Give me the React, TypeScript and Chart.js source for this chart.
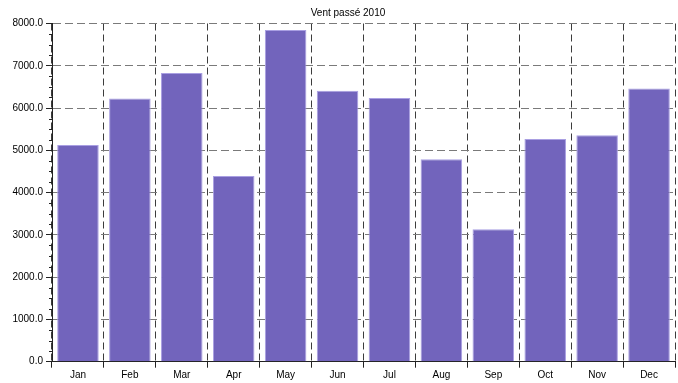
import React, { useEffect, useRef } from "react";
import { Chart, registerables } from "chart.js";

Chart.register(...registerables);

const titleText = "Vent passé 2010";
const months = ["Jan", "Feb", "Mar", "Apr", "May", "Jun", "Jul", "Aug", "Sep", "Oct", "Nov", "Dec"];
const windValues = [5125, 6228, 6828, 4395, 7848, 6408, 6236, 4790, 3135, 5266, 5356, 6465];
const yMin = 0;
const yMax = 8000;
const yMajorStep = 1000;
const yMinorStep = 250;

const FONT = "'Liberation Sans', Arial, sans-serif";

const extrasPlugin = {
  id: "extras",
  afterDraw(chart: any) {
    const ctx = chart.ctx;
    const y = chart.scales.y;
    const area = chart.chartArea;
    ctx.save();
    ctx.strokeStyle = "#222";
    ctx.lineWidth = 1;
    for (let v = yMin; v <= yMax; v += yMinorStep) {
      if (v % yMajorStep === 0) continue;
      const py = Math.round(y.getPixelForValue(v)) + 0.5;
      ctx.beginPath();
      ctx.moveTo(area.left - 3, py);
      ctx.lineTo(area.left, py);
      ctx.stroke();
    }
    ctx.fillStyle = "#000";
    ctx.font = `10px ${FONT}`;
    ctx.textAlign = "center";
    ctx.textBaseline = "middle";
    ctx.fillText(titleText, 348, 13);
    ctx.restore();
  },
};

export default function App() {
  const ref = useRef<HTMLCanvasElement | null>(null);
  useEffect(() => {
    document.body.style.margin = "0";
    const canvas = ref.current!;
    const chart = new Chart(canvas, {
      type: "bar",
      data: {
        labels: months,
        datasets: [
          {
            label: titleText,
            data: windValues,
            backgroundColor: "#7264bc",
            borderColor: "#a99fe2",
            borderWidth: 1,
            barPercentage: 0.8,
            categoryPercentage: 1,
          },
        ],
      },
      options: {
        responsive: false,
        animation: false,
        layout: { padding: { top: 23.5, right: 3, left: 0, bottom: 0 } },
        plugins: {
          legend: { display: false },
          title: { display: false },
          tooltip: { enabled: false },
        },
        scales: {
          x: {
            afterFit: (s: any) => {
              s.height = 21.3;
            },
            border: { display: true, color: "#222", width: 1, dash: [7, 4] },
            grid: {
              offset: true,
              color: "#3c3c3c",
              tickBorderDash: [],
              tickColor: "#222",
              tickLength: 6,
            },
            ticks: {
              color: "#000",
              font: { family: FONT, size: 10 },
              padding: 2,
              maxRotation: 0,
              autoSkip: false,
            },
          },
          y: {
            min: yMin,
            max: yMax,
            afterFit: (s: any) => {
              s.width = 52;
            },
            border: { display: true, color: "#222", width: 1, dash: [8, 4] },
            grid: {
              color: "#7a7a7a",
              tickBorderDash: [],
              tickColor: "#222",
              tickLength: 6,
            },
            ticks: {
              stepSize: yMajorStep,
              color: "#000",
              font: { family: FONT, size: 10 },
              padding: 3,
              callback: (v: any) => Number(v).toFixed(1),
            },
          },
        },
      },
      plugins: [extrasPlugin],
    });
    return () => chart.destroy();
  }, []);
  return <canvas ref={ref} width={678} height={383} style={{ display: "block" }} />;
}
